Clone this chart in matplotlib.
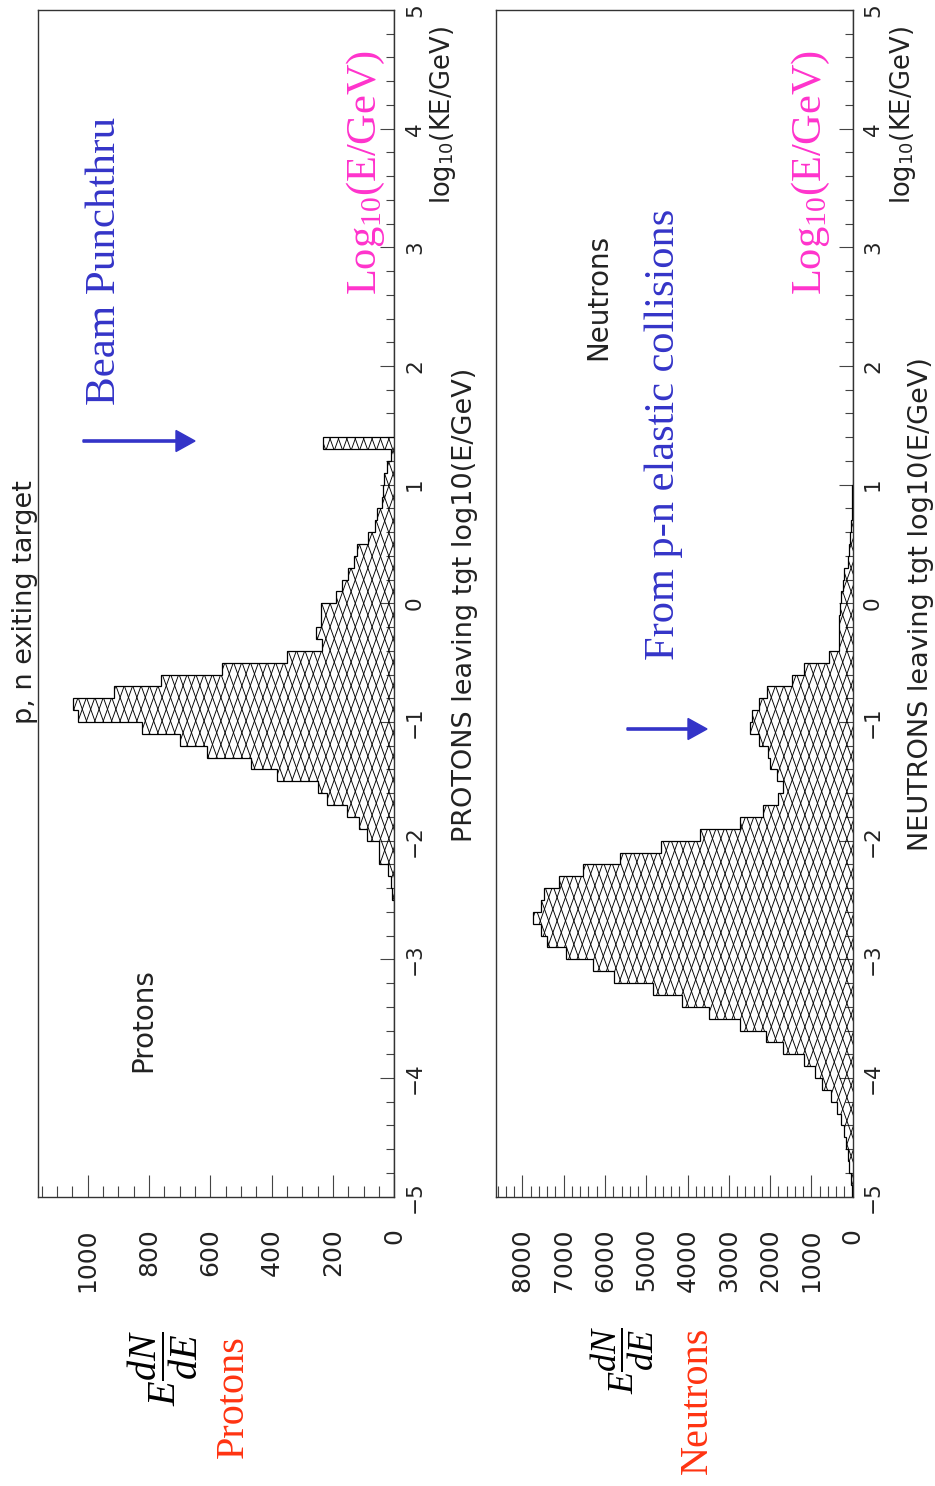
import numpy as np
import matplotlib
matplotlib.use('Agg')
import matplotlib.pyplot as plt
from matplotlib.collections import LineCollection
from matplotlib.patches import FancyArrow
from matplotlib.transforms import blended_transform_factory, IdentityTransform
from matplotlib.ticker import MultipleLocator, FixedLocator

plt.rcParams['font.family'] = ['DejaVu Sans']
plt.rcParams['mathtext.fontset'] = 'custom'
plt.rcParams['mathtext.rm'] = 'Liberation Serif'
plt.rcParams['mathtext.it'] = 'Liberation Serif:italic'
plt.rcParams['mathtext.sf'] = 'DejaVu Sans'

# ---------------- data ----------------
# 100 bins of log10(E/GeV) from -5 to 5, width 0.1
bin_edges = np.round(np.linspace(-5.0, 5.0, 101), 2)

proton_counts = [0] * 24 + [
    2, 6, 12, 22, 51, 51, 90, 114, 153, 221,
    248, 383, 467, 611, 700, 822, 1030, 1049, 913, 762,
    562, 350, 237, 254, 238, 240, 191, 172, 152, 133,
    122, 85, 62, 58, 40, 38, 33, 25, 12, 232,
] + [0] * 36

neutron_counts = [
    24, 48, 80, 105, 161, 210, 290, 380, 530, 750,
    912, 1180, 1687, 2090, 2728, 3475, 4130, 4842, 5770, 6295,
    6940, 7408, 7553, 7750, 7553, 7489, 7126, 6521, 5633, 4655,
    3690, 2735, 2179, 1800, 1679, 1824, 2001, 2042, 2260, 2480,
    2445, 2260, 2066, 1477, 1185, 580, 330, 323, 323, 310,
    280, 226, 210, 120, 80, 65, 40, 24, 15, 8,
] + [0] * 40

e_ticks = [-5, -4, -3, -2, -1, 0, 1, 2, 3, 4, 5]
e_labels = ['\u22125', '\u22124', '\u22123', '\u22122', '\u22121', '0', '1', '2', '3', '4', '5']
proton_ticks = [0, 200, 400, 600, 800, 1000]
proton_labels = ['0', '200', '400', '600', '800', '1000']
neutron_ticks = [0, 1000, 2000, 3000, 4000, 5000, 6000, 7000, 8000]
neutron_labels = ['0', '1000', '2000', '3000', '4000', '5000', '6000', '7000', '8000']
proton_xmax = 1162
neutron_xmax = 8640

# ---------------- figure ----------------
FW, FH = 935, 1486
fig = plt.figure(figsize=(FW / 100, FH / 100), dpi=100)

def fx(x):
    return x / FW

def fy(y):
    return 1 - y / FH

frame_top, frame_bot = 10, 1196.7
ax1 = fig.add_axes([fx(38), fy(frame_bot), (394.3 - 38) / FW, (frame_bot - frame_top) / FH])
ax2 = fig.add_axes([fx(496), fy(frame_bot), (852.7 - 496) / FW, (frame_bot - frame_top) / FH])

BLUE = '#3434c8'
PINK = '#ff33cc'
RED = '#ff3311'
INK = '#333333'
TXT = '#222222'


def setup(ax, values, xmax, ticks, labels, minor, e_lab_x, cnt_lab_y):
    ax.set_xlim(xmax, 0)
    ax.set_ylim(-5, 5)
    for sp in ax.spines.values():
        sp.set_color(INK)
        sp.set_linewidth(1.0)
    ax.xaxis.set_major_locator(FixedLocator(ticks))
    ax.xaxis.set_minor_locator(MultipleLocator(minor))
    ax.yaxis.set_major_locator(FixedLocator(e_ticks))
    ax.yaxis.set_minor_locator(MultipleLocator(0.2))
    ax.tick_params(axis='x', which='both', direction='in', bottom=True, top=False,
                   labelbottom=False, color='#444444', width=0.8)
    ax.tick_params(axis='x', which='major', length=15.6)
    ax.tick_params(axis='x', which='minor', length=7.7)
    ax.tick_params(axis='y', which='both', direction='in', left=False, right=True,
                   labelleft=False, labelright=False, color='#444444', width=0.8)
    ax.tick_params(axis='y', which='major', length=10)
    ax.tick_params(axis='y', which='minor', length=5.5)

    # histogram with steep cross-hatching
    face = ax.stairs(values, bin_edges, orientation='horizontal', baseline=0,
                     fill=True, facecolor='white', edgecolor='none', zorder=1)
    bb = ax.get_position()
    W = bb.width * FW
    H = bb.height * FH
    P, s = 8.4, 2.8
    segs = []
    for x0 in np.arange(-H / s - P, W + P, P):
        segs.append([(x0 / W, 0), ((x0 + H / s) / W, 1)])
        segs.append([((x0 + H / s) / W, 0), (x0 / W, 1)])
    lc = LineCollection(segs, transform=ax.transAxes, colors='black',
                        linewidths=0.65, zorder=2)
    ax.add_collection(lc, autolim=False)
    lc.set_clip_path(face)
    ax.stairs(values, bin_edges, orientation='horizontal', baseline=0,
              fill=False, edgecolor='black', linewidth=0.9, zorder=3)
    ax.set_xlim(xmax, 0)
    ax.set_ylim(-5, 5)

    # tick labels
    tr_e = blended_transform_factory(fig.transFigure, ax.transData)
    for v, lab in zip(e_ticks, e_labels):
        ax.text(fx(e_lab_x), v, lab, transform=tr_e, rotation=90, ha='left',
                va='center', fontsize=15.5, color=TXT)
    tr_c = blended_transform_factory(ax.transData, fig.transFigure)
    for v, lab in zip(ticks, labels):
        ax.text(v, fy(cnt_lab_y), lab, transform=tr_c, rotation=90, ha='center',
                va='top', fontsize=18, color=TXT, clip_on=False)


setup(ax1, proton_counts, proton_xmax, proton_ticks, proton_labels, 50, 405, 1228)
setup(ax2, neutron_counts, neutron_xmax, neutron_ticks, neutron_labels, 200, 863, 1228)


def ftext(x, y, s, **kw):
    kw.setdefault('rotation', 90)
    kw.setdefault('ha', 'center')
    kw.setdefault('va', 'center')
    fig.text(fx(x), fy(y), s, **kw)

# axis titles (right side)
ftext(443, 115, r'log$_{\mathsf{10}}$(KE/GeV)', fontsize=18.5, color=TXT)
ftext(903, 115, r'log$_{\mathsf{10}}$(KE/GeV)', fontsize=18.5, color=TXT)
ftext(465, 605, 'PROTONS leaving tgt log10(E/GeV)', fontsize=19.5, color=TXT)
ftext(921, 604, 'NEUTRONS leaving tgt log10(E/GeV)', fontsize=19.5, color=TXT)

# plot labels
ftext(25, 602, 'p, n exiting target', fontsize=19.5, color=TXT)
ftext(143, 1020, 'Protons', fontsize=20, color=TXT)
ftext(598, 297, 'Neutrons', fontsize=20, color=TXT)

# annotations (serif)
serif = 'Liberation Serif'
ftext(105, 261, 'Beam Punchthru', fontsize=31, color=BLUE, family=serif)
ftext(664, 434, 'From p-n elastic collisions', fontsize=30.5, color=BLUE, family=serif)
ftext(366, 172, r'Log$_{10}$(E/GeV)', fontsize=30.5, color=PINK, family=serif)
ftext(811, 172, r'Log$_{10}$(E/GeV)', fontsize=30.5, color=PINK, family=serif)

ftext(163, 1368, r'$E\dfrac{dN}{dE}$', fontsize=29, color='black')
ftext(233, 1397, 'Protons', fontsize=29, color=RED, family=serif)
ftext(622, 1360, r'$E\dfrac{dN}{dE}$', fontsize=26, color='black')
ftext(697, 1400, 'Neutrons', fontsize=29, color=RED, family=serif)

# arrows (display pixels)
for (x0, x1, y) in [(83, 195, 441), (627, 707, 729)]:
    arr = FancyArrow(x0, FH - y, x1 - x0, 0, width=2.2, head_width=21,
                     head_length=19, length_includes_head=True,
                     color=BLUE, transform=IdentityTransform())
    fig.add_artist(arr)

fig.savefig('out.png', dpi=100)
